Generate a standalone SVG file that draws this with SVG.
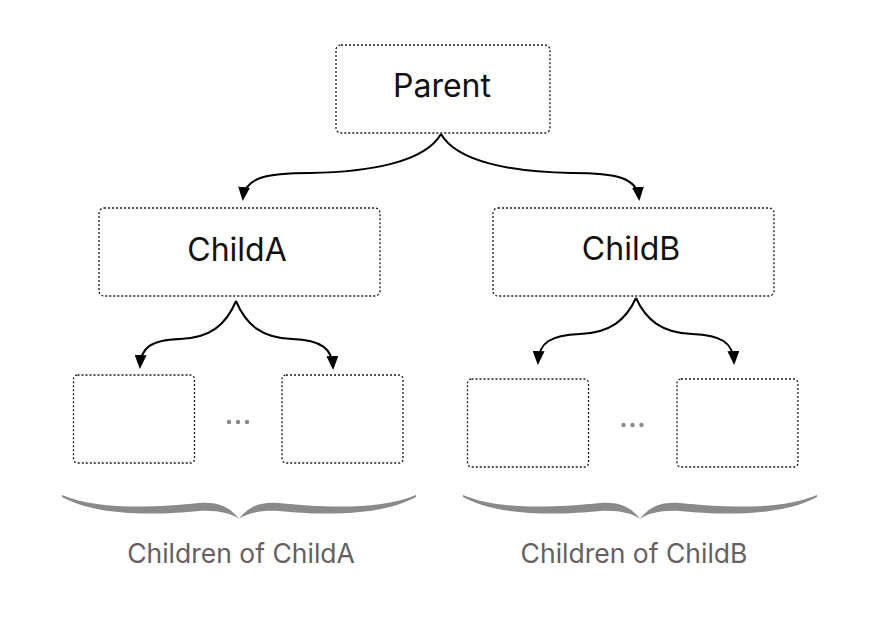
<svg xmlns="http://www.w3.org/2000/svg" width="879" height="627" viewBox="0 0 879 627">
<style>
.box{fill:#fff;stroke:#1a1a1a;stroke-width:1.3;stroke-dasharray:2 2}
.lbl{font-family:Inter,"Noto Sans",sans-serif;font-size:32px;fill:#111;text-anchor:middle}
.cap{font-family:Inter,"Noto Sans",sans-serif;font-size:26.5px;fill:#666062;text-anchor:middle}
.con{fill:none;stroke:#000;stroke-width:2}
.dot{fill:#8a8a8a}
.brace{fill:#8a8a8a}
</style>
<defs>
<marker id="arr" viewBox="0 0 14 12" markerWidth="14" markerHeight="12" refX="11" refY="6" orient="auto" markerUnits="userSpaceOnUse">
<path d="M0,0 L14,6 L0,12 Z" fill="#000"/>
</marker>
<path id="br" d="M -177 0 C -140 16 -80 12 -40 8 C -20 6 -8 13 0 24 C 8 13 20 6 40 8 C 80 12 140 16 177 0 L 177 2 C 140 22 80 20 40 16 C 22 15 8 18 0 24 C -8 18 -22 15 -40 16 C -80 20 -140 22 -177 2 Z"/>
</defs>
<rect width="879" height="627" fill="#fff"/>
<g id="connectors">
<path class="con" marker-end="url(#arr)" d="M 441 134 C 425 162 370 172 310 173 C 265 173 245 178 243 198"/>
<path class="con" marker-end="url(#arr)" d="M 441 134 C 457 162 512 172 572 173 C 617 173 637 178 639 198"/>
<path class="con" marker-end="url(#arr)" d="M 236 301 C 226 325 210 338 180 339 C 150 340 141 348 140 366"/>
<path class="con" marker-end="url(#arr)" d="M 236 301 C 246 325 262 338 292 339 C 322 340 332 349 333 367"/>
<path class="con" marker-end="url(#arr)" d="M 636 298 C 626 320 610 333 580 334 C 550 335 539 343 538 362"/>
<path class="con" marker-end="url(#arr)" d="M 636 298 C 646 320 662 333 692 334 C 722 335 733 343 734 362"/>
</g>
<g id="parent">
<rect class="box" x="336" y="45" width="214" height="88" rx="5"/>
<text class="lbl" x="442" y="97">Parent</text>
</g>
<g id="childA">
<rect class="box" x="99" y="208" width="281" height="88" rx="5"/>
<text class="lbl" x="237" y="261">ChildA</text>
</g>
<g id="childB">
<rect class="box" x="493" y="208" width="281" height="88" rx="5"/>
<text class="lbl" x="631" y="260">ChildB</text>
</g>
<g id="childA-children">
<rect class="box" x="73.5" y="375" width="121" height="88" rx="4"/>
<rect class="box" x="282" y="375" width="121" height="88" rx="4"/>
<circle class="dot" cx="229" cy="422" r="2.2"/>
<circle class="dot" cx="238" cy="422" r="2.2"/>
<circle class="dot" cx="247" cy="422" r="2.2"/>
<use href="#br" class="brace" x="239" y="495"/>
<text class="cap" x="241" y="563">Children of ChildA</text>
</g>
<g id="childB-children">
<rect class="box" x="467.5" y="379" width="121" height="88" rx="4"/>
<rect class="box" x="677" y="379" width="121" height="88" rx="4"/>
<circle class="dot" cx="623.5" cy="425" r="2.2"/>
<circle class="dot" cx="632.5" cy="425" r="2.2"/>
<circle class="dot" cx="641.5" cy="425" r="2.2"/>
<use href="#br" class="brace" x="640" y="495"/>
<text class="cap" x="634" y="563">Children of ChildB</text>
</g>
</svg>
